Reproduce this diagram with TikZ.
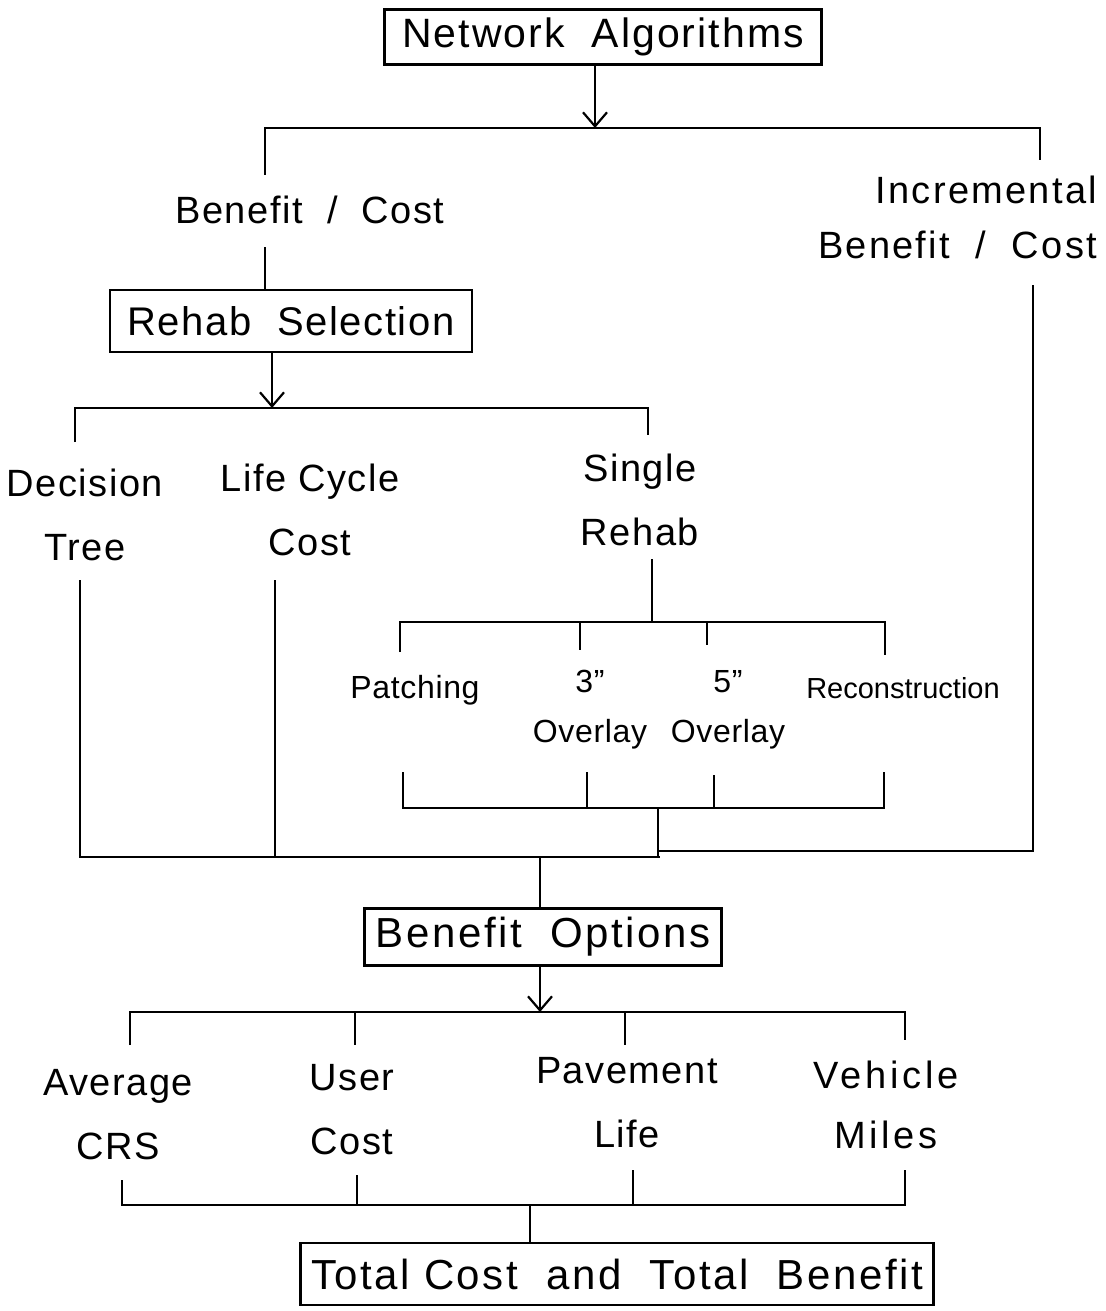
\documentclass[tikz,border=0pt]{standalone}
\usepackage{fontspec}
\setmainfont{Liberation Sans}
\usetikzlibrary{arrows.meta}
\begin{document}
\begin{tikzpicture}[x=1pt,y=-1pt,line width=2.2pt,
  box/.style={draw,inner sep=0pt,font=\fontsize{42}{48}\selectfont\addfontfeature{LetterSpace=6}},
  lbl/.style={inner sep=0pt,align=center,font=\fontsize{38}{64}\selectfont\addfontfeature{LetterSpace=4}},
  sml/.style={inner sep=0pt,align=center,font=\fontsize{32}{50}\selectfont\addfontfeature{LetterSpace=2}},
  arr/.style={-{Straight Barb[length=14pt,width=24pt,line width=2.2pt]}}]
\useasboundingbox (0,0) rectangle (1105,1311);
% nodes
\node[box,minimum width=437pt,minimum height=55pt,font=\fontsize{41}{48}\selectfont\addfontfeature{LetterSpace=5}] (na) at (603,37) {Network\ \ Algorithms};
\node[lbl] (bc) at (310,210) {Benefit\ \ /\ \ Cost};
\node[lbl,align=right,anchor=east,font=\fontsize{38}{55}\selectfont\addfontfeature{LetterSpace=6}] (ibc) at (1098,217) {Incremental\\Benefit\ \ /\ \ Cost};
\node[box,minimum width=362pt,minimum height=62pt,font=\fontsize{40}{48}\selectfont\addfontfeature{LetterSpace=4}] (rs) at (291,321) {Rehab\ \ Selection};
\node[lbl] (dt) at (85,515) {Decision\\Tree};
\node[lbl] (lcc) at (310,510) {Life Cycle\\Cost};
\node[lbl] (sr) at (640,500) {Single\\Rehab};
\node[sml] (pat) at (415,690) {Patching};
\node[sml] (o3) at (590,710) {3"\\Overlay};
\node[sml] (o5) at (728,710) {5"\\Overlay};
\node[sml,font=\fontsize{29}{50}\selectfont] (rec) at (903,688) {Reconstruction};
\node[box,minimum width=357pt,minimum height=57pt] (bo) at (543,937) {Benefit\ \ Options};
\node[lbl] (acrs) at (118,1115) {Average\\CRS};
\node[lbl] (uc) at (352,1110) {User\\Cost};
\node[lbl] (pl) at (627,1103) {Pavement\\Life};
\node[lbl,font=\fontsize{38}{60}\selectfont\addfontfeature{LetterSpace=10}] (vm) at (886,1105) {Vehicle\\Miles};
\node[box,minimum width=633pt,minimum height=62pt] (tc) at (617,1274) {Total\ Cost\ \ and\ \ Total\ \ Benefit};
% junction coordinates
\coordinate (j1) at (595,128);
\coordinate (l1) at (265,128);
\coordinate (r1) at (1040,128);
\coordinate (j2) at (272,408);
\coordinate (l2) at (75,408);
\coordinate (r2) at (648,408);
\coordinate (j3) at (652,622);
\coordinate (j4) at (658,808);
\coordinate (j5) at (658,851);
\coordinate (j6) at (540,857);
\coordinate (rr) at (1033,851);
\coordinate (j7) at (540,1012);
\coordinate (j8) at (530,1205);
% connectors
\draw[arr] (na.south -| j1) -- (j1);
\draw (l1 |- bc.north) ++(0,-20) -- (l1) -- (r1) -- ++(0,32);
\draw (l1 |- bc.south) ++(0,22) -- (l1 |- rs.north);
\draw[arr] (rs.south -| j2) -- (j2);
\draw (l2) ++(0,34) -- (l2) -- (r2) -- ++(0,27);
\draw (80,580) -- (80,857) -- (660,857);
\draw (275,580) -- (275,857);
\draw (sr.south -| j3) ++(0,12) -- (j3);
\draw (400,652) -- (400,622) -- (885,622) -- (885,655);
\draw (580,622) -- (580,650);
\draw (707,622) -- (707,645);
\draw (403,772) -- (403,808) -- (884,808) -- (884,772);
\draw (587,772) -- (587,808);
\draw (714,775) -- (714,808);
\draw (j4) -- (658,857);
\draw (j5) -- (rr) -- (1033,285);
\draw (j6) -- (j6 |- bo.north);
\draw[arr] (bo.south -| j7) -- (j7);
\draw (130,1045) -- (130,1012) -- (905,1012) -- (905,1040);
\draw (355,1012) -- (355,1045);
\draw (625,1012) -- (625,1045);
\draw (122,1180) -- (122,1205) -- (905,1205) -- (905,1170);
\draw (357,1175) -- (357,1205);
\draw (633,1170) -- (633,1205);
\draw (j8) -- (j8 |- tc.north);
\end{tikzpicture}
\end{document}
